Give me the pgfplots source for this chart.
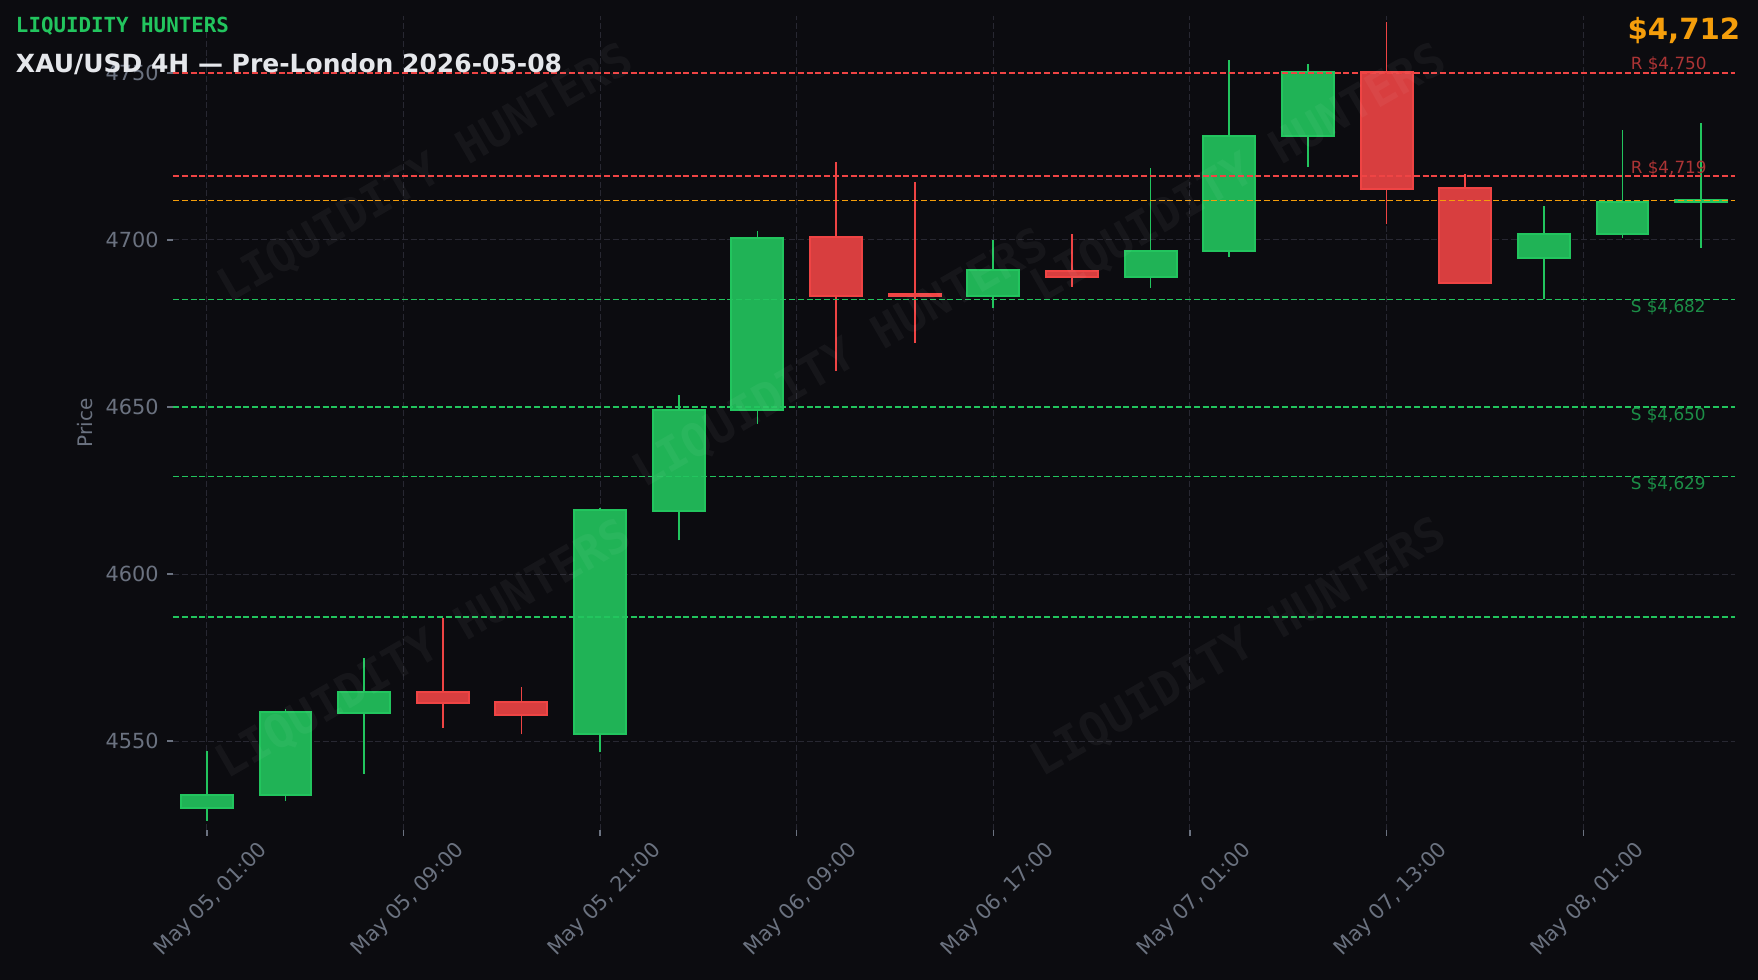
\documentclass[border=0pt]{standalone}
\usepackage{pgfplots}
\pgfplotsset{compat=1.18}
\usepackage{fontspec}
\setmainfont{DejaVu Sans}
\setmonofont{DejaVu Sans Mono}
\definecolor{bg}{RGB}{12,12,16}
\definecolor{gridc}{RGB}{40,40,50}
\definecolor{tickc}{RGB}{107,114,128}
\definecolor{upc}{RGB}{34,197,94}
\definecolor{upfill}{RGB}{32,179,86}
\definecolor{dnc}{RGB}{239,68,68}
\definecolor{dnfill}{RGB}{216,62,63}
\definecolor{orangec}{RGB}{245,158,11}
\definecolor{titlec}{RGB}{229,231,235}
\definecolor{rlab}{RGB}{172,52,53}
\definecolor{slab}{RGB}{28,142,71}

% x, open, high, low, close, colour key (up / dn)
\newcommand{\candle}[6]{%
  \addplot[#6c, line width=0.85pt, forget plot] coordinates {(#1,#4) (#1,#3)};
  \pgfmathsetmacro{\xl}{#1-0.33}\pgfmathsetmacro{\xr}{#1+0.33}%
  \addplot[draw=#6c, fill=#6fill, line width=1pt, line cap=rect, line join=miter, forget plot]
    coordinates {(\xl,#2) (\xr,#2) (\xr,#5) (\xl,#5) (\xl,#2)};
}
\newcommand{\level}[2]{%
  \addplot[#2, line width=0.7pt, dash pattern=on 3pt off 1.4pt, forget plot]
    coordinates {(-0.43,#1) (19.43,#1)};
}

\begin{document}
\begin{tikzpicture}[x=1pt,y=1pt]
\fill[bg] (0,0) rectangle (879,490);
\begin{axis}[
  at={(86.5pt,75pt)}, anchor=south west,
  scale only axis, width=781pt, height=407pt,
  xmin=-0.43, xmax=19.43, ymin=4523.4, ymax=4767,
  axis line style={draw=none},
  xtick={0,2.5,5,7.5,10,12.5,15,17.5},
  xticklabels={{May 05, 01:00},{May 05, 09:00},{May 05, 21:00},{May 06, 09:00},{May 06, 17:00},{May 07, 01:00},{May 07, 13:00},{May 08, 01:00}},
  ytick={4550,4600,4650,4700,4750},
  yticklabels={4550,4600,4650,4700,4750},
  xtick pos=left, ytick pos=left,
  tick align=outside, major tick length=3pt,
  tick style={tickc, line width=0.7pt},
  grid=major, grid style={gridc, line width=0.5pt, dash pattern=on 3pt off 1.4pt},
  ticklabel style={tickc, font=\fontsize{10.4}{12}\selectfont},
  x tick label style={xshift=25.3pt, yshift=-1.8pt, rotate=45, anchor=north east, inner sep=0pt},
  y tick label style={anchor=east, inner sep=0pt, xshift=-4pt},
  ylabel={Price},
  ylabel style={tickc, font=\fontsize{10}{12}\selectfont, at={(axis description cs:-0.0563,0.5)}, anchor=center},
]
\candle{0}{4529.9}{4547.0}{4526.2}{4533.9}{up}
\candle{1}{4533.9}{4559.7}{4532.2}{4558.7}{up}
\candle{2}{4558.4}{4574.8}{4540.3}{4564.8}{up}
\candle{3}{4564.8}{4586.9}{4554.0}{4561.4}{dn}
\candle{4}{4561.7}{4566.1}{4552.0}{4557.7}{dn}
\candle{5}{4552.0}{4619.8}{4546.6}{4619.1}{up}
\candle{6}{4618.8}{4653.7}{4610.1}{4649.0}{up}
\candle{7}{4649.0}{4702.7}{4645.0}{4700.7}{up}
\candle{8}{4701.0}{4723.2}{4660.7}{4683.2}{dn}
\candle{9}{4683.8}{4717.4}{4669.1}{4683.3}{dn}
\candle{10}{4683.2}{4700.0}{4679.5}{4690.9}{up}
\candle{11}{4690.6}{4701.7}{4685.9}{4688.9}{dn}
\candle{12}{4688.9}{4721.5}{4685.6}{4696.6}{up}
\candle{13}{4696.6}{4753.7}{4695.0}{4731.2}{up}
\candle{14}{4731.2}{4752.7}{4721.8}{4750.3}{up}
\candle{15}{4750.3}{4765.1}{4704.7}{4715.1}{dn}
\candle{16}{4715.4}{4719.8}{4686.9}{4687.2}{dn}
\candle{17}{4694.6}{4710.1}{4682.2}{4701.7}{up}
\candle{18}{4701.7}{4732.9}{4700.7}{4711.4}{up}
\candle{19}{4711.4}{4734.9}{4697.7}{4711.8}{up}
\level{4750}{dnc}
\level{4719.1}{dnc}
\level{4711.7}{orangec}
\level{4682.2}{upc}
\level{4650}{upc}
\level{4629.2}{upc}
\level{4587.2}{upc}
\node[anchor=south west, inner sep=0pt, text=rlab, font=\fontsize{8.4}{10}\selectfont] at (axis cs:18.1,4750) {R \$4,750};
\node[anchor=south west, inner sep=0pt, text=rlab, font=\fontsize{8.4}{10}\selectfont] at (axis cs:18.1,4719.1) {R \$4,719};
\node[anchor=north west, inner sep=0pt, text=slab, font=\fontsize{8.4}{10}\selectfont] at (axis cs:18.1,4682.2) {S \$4,682};
\node[anchor=north west, inner sep=0pt, text=slab, font=\fontsize{8.4}{10}\selectfont] at (axis cs:18.1,4650) {S \$4,650};
\node[anchor=north west, inner sep=0pt, text=slab, font=\fontsize{8.4}{10}\selectfont] at (axis cs:18.1,4629.2) {S \$4,629};
\end{axis}
\foreach \p in {(213,403),(420.5,310.5),(619.5,403),(212,165),(619.5,166)}
  \node[rotate=30, text=white, text opacity=0.045, font=\ttfamily\bfseries\fontsize{23}{26}\selectfont] at \p {LIQUIDITY HUNTERS};
\node[anchor=base west, inner sep=0pt, text=upc, font=\ttfamily\bfseries\fontsize{10.4}{12}\selectfont] at (7.8,473.6) {LIQUIDITY HUNTERS};
\node[anchor=base west, inner sep=0pt, text=titlec, font=\bfseries\fontsize{12.5}{15}\selectfont] at (7.8,453.6) {XAU/USD 4H — Pre-London 2026-05-08};
\node[anchor=base east, inner sep=0pt, text=orangec, font=\bfseries\fontsize{14.6}{17}\selectfont] at (870.3,470.3) {\$4,712};
\useasboundingbox (0,0) rectangle (879,490);
\end{tikzpicture}
\end{document}
